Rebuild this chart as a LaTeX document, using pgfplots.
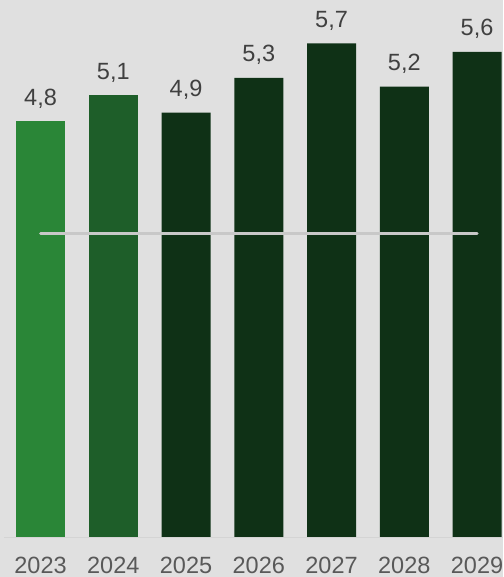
\documentclass[border=0pt]{standalone}
\usepackage{pgfplots}
\pgfplotsset{compat=1.18}
\usepackage{fontspec}
\setmainfont{Liberation Sans}
\definecolor{bgcol}{HTML}{E0E0E0}
\definecolor{light}{HTML}{2A8637}
\definecolor{mid}{HTML}{1E5E29}
\definecolor{dark}{HTML}{0F3116}
\definecolor{valtxt}{HTML}{404040}
\definecolor{yeartxt}{HTML}{595959}
\definecolor{avgline}{HTML}{C8C8C8}
\definecolor{basecol}{HTML}{D4D4D4}
\begin{document}
\begin{tikzpicture}
\path[use as bounding box, fill=bgcol] (0,-40pt) rectangle (503pt,537pt);
\begin{axis}[
    at={(0,0)}, anchor=south west,
    scale only axis,
    width=503pt,
    height=537pt,
    xmin=-0.557, xmax=6.357,
    ymin=0, ymax=6.2,
    ybar,
    bar width=49pt,
    axis line style={draw=none},
    major tick length=0pt,
    ytick=\empty,
    xtick={0,1,2,3,4,5,6},
    xticklabels={2023,2024,2025,2026,2027,2028,2029},
    xticklabel style={anchor=base, yshift=-36.5pt, font=\fontsize{23.5}{28}\selectfont, text=yeartxt},
    every node near coord/.append style={anchor=base, yshift=16pt, inner sep=0pt,
        font=\fontsize{23.5}{28}\selectfont, text=valtxt},
    /pgf/number format/.cd, use comma, fixed, fixed zerofill, precision=1, assume math mode=true,
    /pgfplots/.cd,
    clip=false,
]
\addplot[fill=light, draw=none, bar shift=0pt, nodes near coords] coordinates {(0,4.8)};
\addplot[fill=mid, draw=none, bar shift=0pt, nodes near coords] coordinates {(1,5.1)};
\addplot[fill=dark, draw=none, bar shift=0pt, nodes near coords] coordinates {(2,4.9)(3,5.3)(4,5.7)(5,5.2)(6,5.6)};
\addplot[sharp plot, avgline, line width=3pt, line cap=round, mark=none]
    coordinates {(0,3.5)(6,3.5)};
\draw[basecol, line width=1pt] ([xshift=4pt, yshift=-0.8pt]rel axis cs:0,0) -- ([yshift=-0.8pt]rel axis cs:1,0);
\end{axis}
\end{tikzpicture}
\end{document}
